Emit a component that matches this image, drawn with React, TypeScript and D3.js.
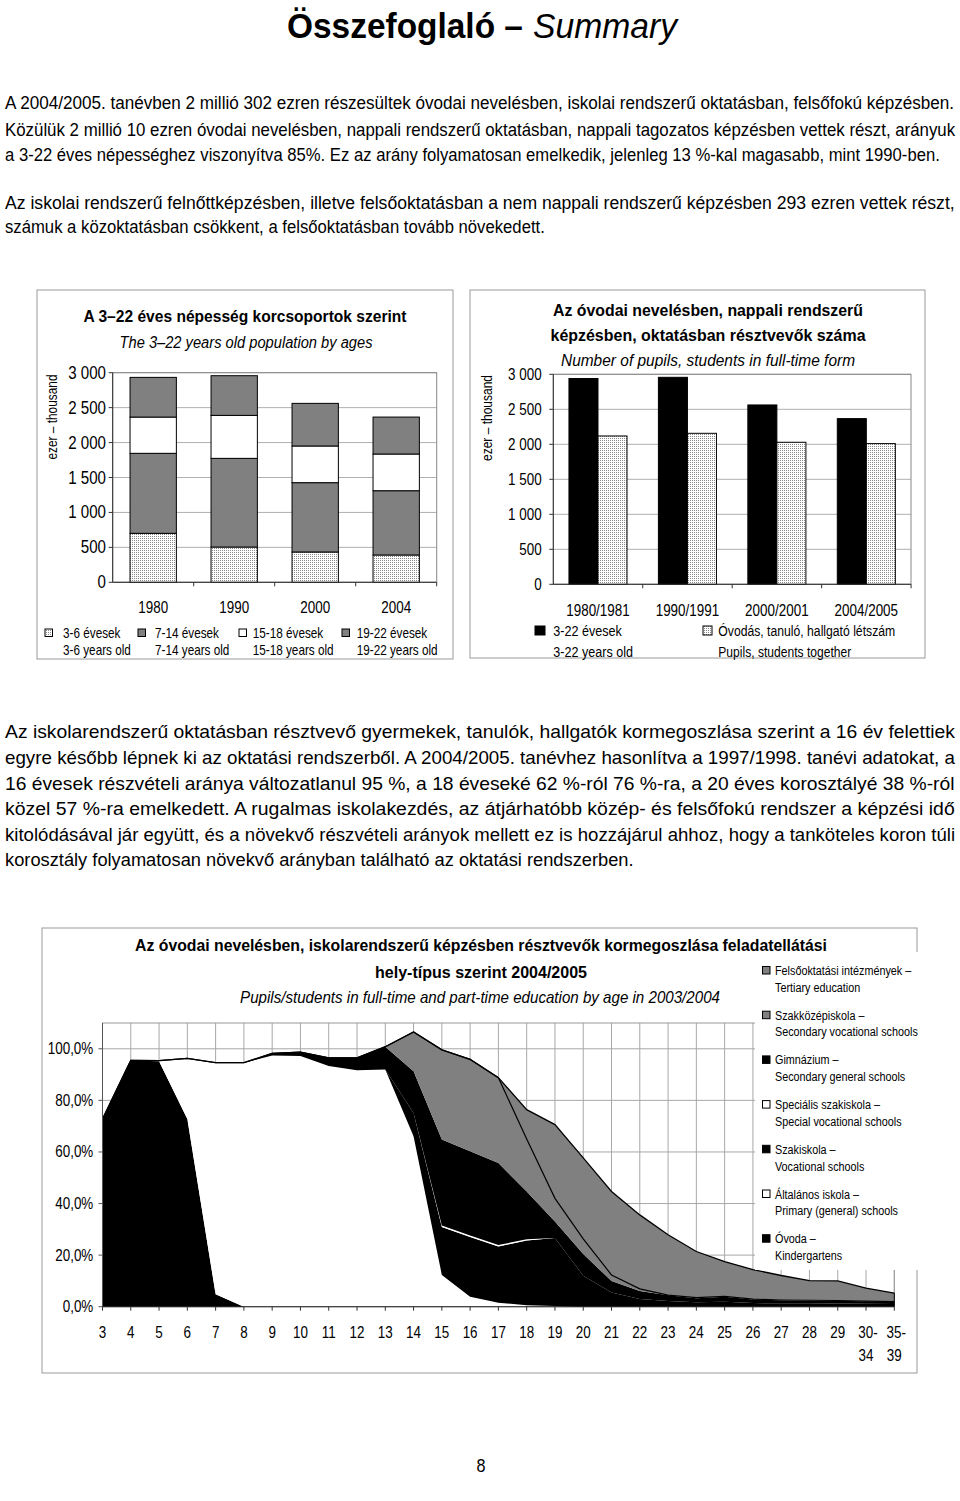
import React, { useLayoutEffect, useRef, useState } from 'react';
import * as d3 from 'd3';

const FONT = "'Liberation Sans', Arial, sans-serif";

// ---- Chart 1: population 3-22 by age groups (thousand)
const popYears = ['1980', '1990', '2000', '2004'];
const pop3to6 = [701, 505, 434, 391];
const pop7to14 = [1145, 1269, 992, 920];
const pop15to18 = [519, 615, 525, 525];
const pop19to22 = [568, 568, 610, 529];
const thousandTicks = [0, 500, 1000, 1500, 2000, 2500, 3000];

// ---- Chart 2: 3-22 population vs pupils
const schoolYears = ['1980/1981', '1990/1991', '2000/2001', '2004/2005'];
const pop3to22 = [2940, 2957, 2562, 2367];
const pupilsTotal = [2119, 2157, 2029, 2010];

// ---- Chart 3: participation by age and institution type (%)
const ageLabels = ['3', '4', '5', '6', '7', '8', '9', '10', '11', '12', '13', '14', '15', '16', '17', '18', '19', '20', '21', '22', '23', '24', '25', '26', '27', '28', '29', '30-34', '35-39'];
const ovoda = [72.8, 95.5, 95.2, 72.8, 4.8, 0, 0, 0, 0, 0, 0, 0, 0, 0, 0, 0, 0, 0, 0, 0, 0, 0, 0, 0, 0, 0, 0, 0, 0];
const altalanos = [0, 0, 0.2, 23.5, 89.8, 94.6, 97.4, 97.2, 93.3, 91.7, 92.0, 66.1, 12.3, 3.9, 1.5, 0.6, 0.3, 0, 0, 0, 0, 0, 0, 0, 0, 0, 0, 0, 0];
const szakiskola = [0, 0, 0, 0, 0, 0, 0, 0, 0, 0, 0, 9.0, 18.6, 23.1, 21.8, 25.1, 26.3, 12.0, 5.5, 3.0, 2.2, 1.7, 1.9, 1.4, 1.3, 1.3, 1.2, 1.1, 1.0];
const specialis = [0, 0, 0, 0, 0, 0, 0, 0, 0, 0, 0, 0, 0.6, 0.6, 0.6, 0.5, 0, 0, 0, 0, 0, 0, 0, 0, 0, 0, 0, 0, 0];
const gimnazium = [0, 0, 0, 0, 0, 0, 0.8, 1.5, 3.2, 4.8, 8.8, 16.2, 33.3, 32.7, 31.8, 18.5, 6.4, 8.4, 4.5, 3.1, 2.2, 1.6, 2.0, 1.4, 1.2, 1.1, 1.1, 1.0, 0.9];
const szakkozep = [0, 0, 0, 0, 0, 0, 0, 0, 0, 0, 0, 15.2, 34.8, 35.6, 33.1, 20.3, 9.0, 5.9, 2.3, 0.8, 0.1, 0.2, 0.1, 0.1, 0.1, 0.1, 0.1, 0.1, 0.1];
const felso = [0, 0, 0, 0, 0, 0, 0, 0, 0, 0, 0, 0, 0, 0, 0, 11.4, 28.6, 31.4, 32.4, 28.7, 23.4, 17.9, 13.5, 11.5, 9.5, 7.6, 7.6, 5.0, 3.3];
const pctTicks = [0, 20, 40, 60, 80, 100];

const seriesKeys = ['ovoda', 'altalanos', 'szakiskola', 'specialis', 'gimnazium', 'szakkozep', 'felso'];
const seriesValues = [ovoda, altalanos, szakiskola, specialis, gimnazium, szakkozep, felso];
const seriesFill = ['#000', '#fff', '#000', '#fff', '#000', '#808080', '#808080'];
const legendHu = ['Felsőoktatási intézmények –', 'Szakközépiskola –', 'Gimnázium –', 'Speciális szakiskola –', 'Szakiskola –', 'Általános iskola –', 'Óvoda –'];
const legendEn = ['Tertiary education', 'Secondary vocational schools', 'Secondary general schools', 'Special vocational schools', 'Vocational schools', 'Primary (general) schools', 'Kindergartens'];
const legendFill = ['#808080', '#808080', '#000', '#fff', '#000', '#fff', '#000'];

// ---- Body text lines
const bodyLines = [
  { t: 'A 2004/2005. tanévben 2 millió 302 ezren részesültek óvodai nevelésben, iskolai rendszerű oktatásban, felsőfokú képzésben.', y: 109, w: 950 },
  { t: 'Közülük 2 millió 10 ezren óvodai nevelésben, nappali rendszerű oktatásban, nappali tagozatos képzésben vettek részt, arányuk', y: 136, w: 950 },
  { t: 'a 3-22 éves népességhez viszonyítva 85%. Ez az arány folyamatosan emelkedik, jelenleg 13 %-kal magasabb, mint 1990-ben.', y: 161, w: 935 },
  { t: 'Az iskolai rendszerű felnőttképzésben, illetve felsőoktatásban a nem nappali rendszerű képzésben 293 ezren vettek részt,', y: 209, w: 950 },
  { t: 'számuk a közoktatásban csökkent, a felsőoktatásban tovább növekedett.', y: 233, w: 540 },
  { t: 'Az iskolarendszerű oktatásban résztvevő gyermekek, tanulók, hallgatók kormegoszlása szerint a 16 év felettiek', y: 738, w: 950 },
  { t: 'egyre később lépnek ki az oktatási rendszerből. A 2004/2005. tanévhez hasonlítva a 1997/1998. tanévi adatokat, a', y: 764, w: 950 },
  { t: '16 évesek részvételi aránya változatlanul 95 %, a 18 éveseké 62 %-ról 76 %-ra, a 20 éves korosztályé 38 %-ról', y: 790, w: 950 },
  { t: 'közel 57 %-ra emelkedett. A rugalmas iskolakezdés, az átjárhatóbb közép- és felsőfokú rendszer a képzési idő', y: 815, w: 950 },
  { t: 'kitolódásával jár együtt, és a növekvő részvételi arányok mellett ez is hozzájárul ahhoz, hogy a tanköteles koron túli', y: 841, w: 950 },
  { t: 'korosztály folyamatosan növekvő arányban található az oktatási rendszerben.', y: 866, w: 629 },
];

function NT({ x, y, size = 16, anchor = 'start', bold = false, italic = false, sx = 0.84, rot = 0, children, fill = '#000' }: any) {
  const tr = `translate(${x},${y})${rot ? ` rotate(${rot})` : ''} scale(${sx},1)`;
  return (
    <text transform={tr} fontSize={size} fontFamily={FONT} fontWeight={bold ? 'bold' : 'normal'} fontStyle={italic ? 'italic' : 'normal'} textAnchor={anchor} fill={fill}>
      {children}
    </text>
  );
}

// Text fitted to a measured width by a horizontal scale (narrow-font look)
function JT({ x, y, w, size = 16, anchor = 'start', bold = false, italic = false, children, rot = 0 }: any) {
  const ref = useRef<SVGTextElement>(null);
  const [s, setS] = useState(0.84);
  useLayoutEffect(() => {
    if (ref.current) {
      const n = ref.current.getComputedTextLength();
      if (n > 0) setS(w / n);
    }
  }, [w, children, size]);
  const tr = `translate(${x},${y})${rot ? ` rotate(${rot})` : ''} scale(${s},1)`;
  return (
    <text ref={ref} transform={tr} fontSize={size} fontFamily={FONT} fontWeight={bold ? 'bold' : 'normal'} fontStyle={italic ? 'italic' : 'normal'} textAnchor={anchor}>
      {children}
    </text>
  );
}

const fmtK = (v: number) => d3.format(',')(v).replace(/,/g, ' ');
const fmtPct = (v: number) => v.toFixed(1).replace('.', ',') + '%';

function Chart1() {
  const x = d3.scaleBand().domain(popYears).range([112.7, 436.7]).paddingInner(0.428).paddingOuter(0.214);
  const y = d3.scaleLinear().domain([0, 3000]).range([582.3, 372.7]);
  const rows = popYears.map((yr, i) => ({ yr, a: pop3to6[i], b: pop7to14[i], c: pop15to18[i], d: pop19to22[i] }));
  const stack = d3.stack<any>().keys(['a', 'b', 'c', 'd'])(rows);
  const fills = ['url(#dots)', '#808080', '#fff', '#808080'];
  const legHu = ['3-6 évesek', '7-14 évesek', '15-18 évesek', '19-22 évesek'];
  const legEn = ['3-6 years old', '7-14 years old', '15-18 years old', '19-22 years old'];
  const legSq = [45, 138, 239, 342];
  const legTx = [63, 155, 252.7, 356.7];
  const step = x.step();
  return (
    <g>
      <rect x={37} y={290} width={416} height={369} fill="#fff" stroke="#999" />
      <JT x={245} y={322} w={323} size={17} anchor="middle" bold>A 3–22 éves népesség korcsoportok szerint</JT>
      <JT x={246} y={348} w={253} size={17} anchor="middle" italic>The 3–22 years old population by ages</JT>
      <JT x={56.5} y={417} w={85} size={15} anchor="middle" rot={-90}>ezer – thousand</JT>
      {thousandTicks.map(t => (
        <line key={t} x1={112.7} x2={436.7} y1={y(t)} y2={y(t)} stroke="#b0b0b0" />
      ))}
      <rect x={112.7} y={372.7} width={324} height={209.6} fill="none" stroke="#888" />
      {stack.map((s, si) => s.map((d, i) => (
        <rect key={si + '-' + i} x={x(popYears[i])} y={y(d[1])} width={x.bandwidth()} height={y(d[0]) - y(d[1])} fill={fills[si]} stroke="#000" strokeWidth={1} />
      )))}
      <line x1={112.7} x2={112.7} y1={372.7} y2={582.3} stroke="#333" />
      <line x1={112.7} x2={436.7} y1={582.3} y2={582.3} stroke="#333" />
      {thousandTicks.map(t => (
        <g key={'t' + t}>
          <line x1={108.7} x2={112.7} y1={y(t)} y2={y(t)} stroke="#333" />
          <NT x={106} y={y(t) + 6} size={18} anchor="end">{fmtK(t)}</NT>
        </g>
      ))}
      {popYears.map((yr, i) => (
        <g key={yr}>
          <line x1={112.7 + step * (i + 1)} x2={112.7 + step * (i + 1)} y1={582.3} y2={586.3} stroke="#333" />
          <NT x={(x(yr) as number) + x.bandwidth() / 2} y={612.5} size={16} anchor="middle">{yr}</NT>
        </g>
      ))}
      {legHu.map((l, i) => (
        <g key={l}>
          <rect x={legSq[i]} y={629} width={7.5} height={7.5} fill={fills[i]} stroke="#000" />
          <NT x={legTx[i]} y={637.5} size={14}>{l}</NT>
          <NT x={legTx[i]} y={655} size={14}>{legEn[i]}</NT>
        </g>
      ))}
    </g>
  );
}

function Chart2() {
  const x = d3.scaleBand().domain(schoolYears).range([553.3, 911]).paddingInner(0.351).paddingOuter(0.175);
  const xs = d3.scaleBand().domain(['pop', 'pupils']).range([0, x.bandwidth()]);
  const y = d3.scaleLinear().domain([0, 3000]).range([584.3, 374.3]);
  const step = x.step();
  return (
    <g>
      <rect x={470} y={290} width={455} height={368} fill="#fff" stroke="#999" />
      <JT x={708} y={316} w={310} size={17} anchor="middle" bold>Az óvodai nevelésben, nappali rendszerű</JT>
      <JT x={708} y={341} w={315} size={17} anchor="middle" bold>képzésben, oktatásban résztvevők száma</JT>
      <JT x={708} y={366} w={294} size={17} anchor="middle" italic>Number of pupils, students in full-time form</JT>
      <JT x={491.5} y={418} w={86} size={15} anchor="middle" rot={-90}>ezer – thousand</JT>
      {thousandTicks.map(t => (
        <line key={t} x1={553.3} x2={911} y1={y(t)} y2={y(t)} stroke="#b0b0b0" />
      ))}
      <rect x={553.3} y={374.3} width={357.7} height={210} fill="none" stroke="#888" />
      {schoolYears.map((sy, i) => (
        <g key={sy}>
          <rect x={(x(sy) as number) + (xs('pop') as number)} y={y(pop3to22[i])} width={xs.bandwidth()} height={y(0) - y(pop3to22[i])} fill="#000" stroke="#000" />
          <rect x={(x(sy) as number) + (xs('pupils') as number)} y={y(pupilsTotal[i])} width={xs.bandwidth()} height={y(0) - y(pupilsTotal[i])} fill="url(#dots)" stroke="#000" />
        </g>
      ))}
      <line x1={553.3} x2={553.3} y1={374.3} y2={584.3} stroke="#333" />
      <line x1={553.3} x2={911} y1={584.3} y2={584.3} stroke="#333" />
      {thousandTicks.map(t => (
        <g key={'t' + t}>
          <line x1={549.3} x2={553.3} y1={y(t)} y2={y(t)} stroke="#333" />
          <NT x={541.7} y={y(t) + 5.5} size={16} anchor="end">{fmtK(t)}</NT>
        </g>
      ))}
      {schoolYears.map((sy, i) => (
        <g key={'l' + sy}>
          <line x1={553.3 + step * (i + 1)} x2={553.3 + step * (i + 1)} y1={584.3} y2={588.3} stroke="#333" />
          <NT x={(x(sy) as number) + x.bandwidth() / 2} y={616} size={16} anchor="middle">{sy}</NT>
        </g>
      ))}
      <rect x={535} y={626} width={10} height={9} fill="#000" stroke="#000" />
      <NT x={553.3} y={636} size={15}>3-22 évesek</NT>
      <NT x={553.3} y={657} size={15}>3-22 years old</NT>
      <rect x={703} y={626} width={9} height={9} fill="url(#dots)" stroke="#000" />
      <JT x={718.3} y={636} w={177} size={15}>Óvodás, tanuló, hallgató létszám</JT>
      <JT x={718.3} y={657} w={133} size={15}>Pupils, students together</JT>
    </g>
  );
}

function Chart3() {
  const x = d3.scalePoint().domain(ageLabels).range([102.5, 894.3]);
  const y = d3.scaleLinear().domain([0, 110]).range([1306.7, 1023]);
  const rows = ageLabels.map((a, i) => {
    const r: any = { age: a };
    seriesKeys.forEach((k, si) => { r[k] = seriesValues[si][i]; });
    return r;
  });
  const stack = d3.stack<any>().keys(seriesKeys)(rows);
  const area = d3.area<any>().x((d: any) => x(d.data.age) as number).y0((d: any) => y(d[0])).y1((d: any) => y(d[1]));
  const topLine = d3.line<any>().x((d: any) => x(d.data.age) as number).y((d: any) => y(d[1]));
  const legY0 = 975;
  const legStep = 44.7;
  return (
    <g>
      <rect x={42} y={928} width={875} height={445} fill="#fff" stroke="#999" />
      <JT x={481} y={951} w={692} size={17} anchor="middle" bold>Az óvodai nevelésben, iskolarendszerű képzésben résztvevők kormegoszlása feladatellátási</JT>
      <JT x={481} y={978} w={212} size={17} anchor="middle" bold>hely-típus szerint 2004/2005</JT>
      <JT x={480} y={1003} w={480} size={17} anchor="middle" italic>Pupils/students in full-time and part-time education by age in 2003/2004</JT>
      {pctTicks.map(t => (
        <line key={t} x1={102.5} x2={894.3} y1={y(t)} y2={y(t)} stroke="#a8a8a8" />
      ))}
      {ageLabels.map(a => (
        <line key={'g' + a} x1={x(a)} x2={x(a)} y1={1023} y2={1306.7} stroke="#a8a8a8" />
      ))}
      <rect x={102.5} y={1023} width={791.8} height={283.7} fill="none" stroke="#999" />
      {stack.map((s, si) => (
        <path key={seriesKeys[si]} d={area(s) as string} fill={seriesFill[si]} stroke="none" />
      ))}
      <path d={topLine(stack[5]) as string} fill="none" stroke="#000" strokeWidth={1.2} />
      <path d={topLine(stack[6]) as string} fill="none" stroke="#000" strokeWidth={1.3} />
      <line x1={894.3} x2={894.3} y1={y(stack[6][28][1])} y2={1306.7} stroke="#000" />
      <line x1={102.5} x2={102.5} y1={1023} y2={1306.7} stroke="#555" />
      <line x1={102.5} x2={894.3} y1={1306.7} y2={1306.7} stroke="#222" />
      {pctTicks.map(t => (
        <g key={'yt' + t}>
          <line x1={98.5} x2={102.5} y1={y(t)} y2={y(t)} stroke="#555" />
          <NT x={93.3} y={y(t) + 5.5} size={16} anchor="end">{fmtPct(t)}</NT>
        </g>
      ))}
      {ageLabels.map(a => {
        const parts = a.includes('-') ? [a.split('-')[0] + '-', a.split('-')[1]] : [a];
        return (
          <g key={'xl' + a}>
            <line x1={x(a)} x2={x(a)} y1={1306.7} y2={1310.7} stroke="#333" />
            <NT x={(x(a) as number) + (parts.length > 1 ? 2 : 0)} y={1338} size={16} anchor="middle">{parts[0]}</NT>
            {parts.length > 1 && <NT x={x(a)} y={1361} size={16} anchor="middle">{parts[1]}</NT>}
          </g>
        );
      })}
      <rect x={755} y={952} width={172} height={318} fill="#fff" />
      {legendHu.map((l, i) => (
        <g key={l}>
          <rect x={762.5} y={legY0 + i * legStep - 8.5} width={7.5} height={7.5} fill={legendFill[i]} stroke="#000" />
          <NT x={775} y={legY0 + i * legStep} size={13.5} sx={0.8}>{l}</NT>
          <NT x={775} y={legY0 + i * legStep + 16.7} size={13.5} sx={0.8}>{legendEn[i]}</NT>
        </g>
      ))}
    </g>
  );
}

export default function App() {
  return (
    <svg width={960} height={1501} viewBox="0 0 960 1501" style={{ position: 'absolute', left: 0, top: 0, background: '#fff' }}>
      <defs>
        <pattern id="dots" width={2} height={2} patternUnits="userSpaceOnUse">
          <rect width={2} height={2} fill="#fff" />
          <rect width={1} height={1} fill="#8a8a8a" />
        </pattern>
      </defs>
      <rect width={960} height={1501} fill="#fff" />
      <JT x={287} y={38} w={236} size={35} bold>Összefoglaló –</JT>
      <JT x={533} y={38} w={144} size={35} italic>Summary</JT>
      {bodyLines.map((l, i) => (
        <JT key={i} x={5} y={l.y} w={l.w} size={18.5}>{l.t}</JT>
      ))}
      <Chart1 />
      <Chart2 />
      <Chart3 />
      <NT x={481} y={1472} size={18} anchor="middle" sx={0.9}>8</NT>
    </svg>
  );
}
